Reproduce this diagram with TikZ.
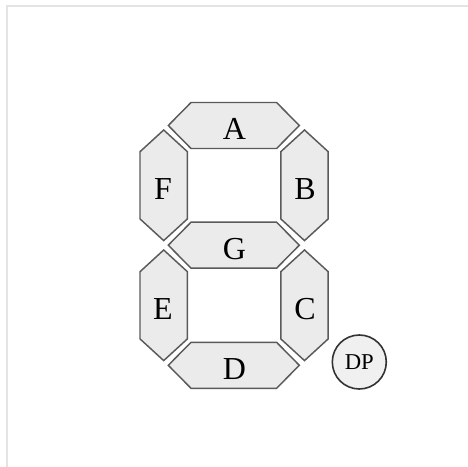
\documentclass[tikz,border=0pt]{standalone}
\usepackage{fontspec}
\setmainfont{Liberation Serif}
\definecolor{segfill}{HTML}{EBEBEB}
\definecolor{dpfill}{HTML}{F0F0F0}
\definecolor{segline}{HTML}{5A5A5A}
\definecolor{frameline}{HTML}{E4E4E4}
\tikzset{
  segstyle/.style={fill=segfill,draw=segline,line width=1.1pt,line join=miter},
  lbl/.style={inner sep=0pt,font=\fontsize{24}{24}\selectfont},
  hseg/.pic={\path[segstyle] (-65.5,0) -- (-42.8,-23) -- (42.8,-23) -- (65.5,0) -- (42.8,23) -- (-42.8,23) -- cycle;},
  vseg/.pic={\path[segstyle] (0,-55.3) -- (23.7,-33.6) -- (23.7,33.6) -- (0,55.3) -- (-23.7,33.6) -- (-23.7,-33.6) -- cycle;}
}
\begin{document}
\begin{tikzpicture}[x=0.75pt,y=-0.75pt]
\useasboundingbox (0,0) rectangle (468,467);
\draw[frameline,line width=1.2pt] (7,467) -- (7,6) -- (468,6);
\pic at (233.8,125.5) {hseg};
\pic at (233.8,245.2) {hseg};
\pic at (233.8,365.3) {hseg};
\pic at (163.7,185.3) {vseg};
\pic at (304.5,185.3) {vseg};
\pic at (163.7,305.3) {vseg};
\pic at (304.5,305.3) {vseg};
\node[lbl] (A) at (234.5,129) {A};
\node[lbl] (B) at (305,189) {B};
\node[lbl] (C) at (305,309) {C};
\node[lbl] (D) at (234.5,369) {D};
\node[lbl] (E) at (163,309) {E};
\node[lbl] (F) at (163,189) {F};
\node[lbl] (G) at (234.5,249) {G};
\node[circle,draw=black!80,fill=dpfill,line width=1.2pt,minimum size=40.5pt,inner sep=0pt,font=\fontsize{17}{17}\selectfont] (DP) at (359.3,362) {DP};
\end{tikzpicture}
\end{document}
